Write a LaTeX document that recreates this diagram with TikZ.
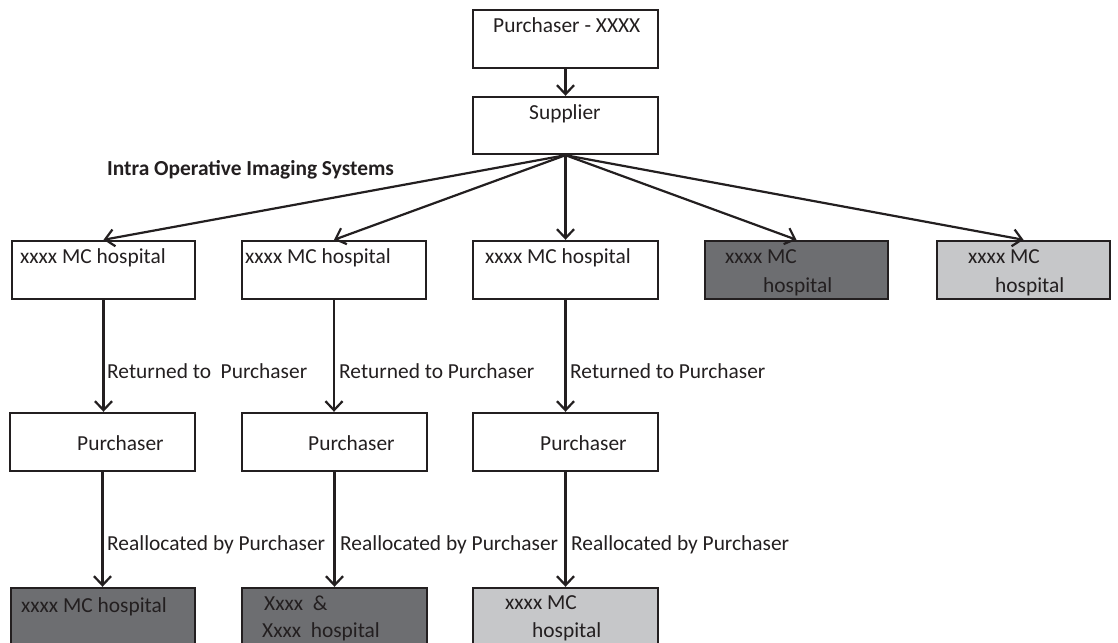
\documentclass[tikz,border=0pt]{standalone}
\usepackage{fontspec}
\setmainfont{Carlito}
\usetikzlibrary{arrows.meta}
\definecolor{ink}{HTML}{231F20}
\definecolor{darkfill}{HTML}{6D6E71}
\definecolor{lightfill}{HTML}{C6C7C9}
\begin{document}
\begin{tikzpicture}[x=1pt,y=-1pt,
  box/.style={draw=ink, line width=2.4pt, rectangle, inner sep=0pt, minimum width=185pt, minimum height=58pt},
  darkbox/.style={box, fill=darkfill},
  lightbox/.style={box, fill=lightfill},
  txt/.style={anchor=base west, inner sep=0pt, text=ink, font=\fontsize{21.4}{29}\selectfont},
  arr/.style={draw=ink, line width=2.2pt, -{Straight Barb[length=9pt,width=17pt,line width=2.2pt]}}
]
\useasboundingbox (0,0) rectangle (1118,642);
\fill[white] (0,0) rectangle (1118,642);

% boxes
\node[box] (top) at (565.5,39) {};
\node[box, minimum height=57pt] (sup) at (565.5,125.5) {};
\node[box, minimum width=183pt] (h1) at (103.5,270) {};
\node[box, minimum width=184pt] (h2) at (334,270) {};
\node[box] (h3) at (565.5,270) {};
\node[darkbox, minimum width=183pt] (h4) at (796.5,270) {};
\node[lightbox, minimum width=173pt] (h5) at (1023.5,270) {};
\node[box] (p1) at (102.5,442) {};
\node[box] (p2) at (334.5,442) {};
\node[box] (p3) at (565.5,442) {};
\node[darkbox, minimum width=184pt] (b1) at (103,617) {};
\node[darkbox] (b2) at (334.5,617) {};
\node[lightbox] (b3) at (565.5,617) {};

% texts in boxes
\node[txt] (ttop) at (493,33) {Purchaser - XXXX};
\node[txt] (tsup) at (529,119) {Supplier};
\node[txt] (th1) at (20,263) {xxxx MC hospital};
\node[txt] (th2) at (245,263) {xxxx MC hospital};
\node[txt] (th3) at (485,263) {xxxx MC hospital};
\node[txt] (th4a) at (725,263) {xxxx MC};
\node[txt] (th4b) at (763,292) {hospital};
\node[txt] (th5a) at (968,263) {xxxx MC};
\node[txt] (th5b) at (995,292) {hospital};
\node[txt] (tp1) at (77,450) {Purchaser};
\node[txt] (tp2) at (308,450) {Purchaser};
\node[txt] (tp3) at (540,450) {Purchaser};
\node[txt] (tb1) at (21,612) {xxxx MC hospital};
\node[txt] (tb2a) at (264,610) {Xxxx~ \&};
\node[txt] (tb2b) at (262,637) {Xxxx~ hospital};
\node[txt] (tb3a) at (505,609) {xxxx MC};
\node[txt] (tb3b) at (532,637) {hospital};

% title
\node[txt, font=\fontsize{21.4}{29}\selectfont\bfseries] (title) at (107,175) {Intra Operative Imaging Systems};

% connector labels
\node[txt] (r1) at (107,378) {Returned to~ Purchaser};
\node[txt] (r2) at (339,378) {Returned to Purchaser};
\node[txt] (r3) at (570,378) {Returned to Purchaser};
\node[txt] (a1) at (107,550) {Reallocated by Purchaser};
\node[txt] (a2) at (340,550) {Reallocated by Purchaser};
\node[txt] (a3) at (571,550) {Reallocated by Purchaser};

% connectors
\draw[arr] (top.south) -- (sup.north);
\draw[arr] (sup.south) -- (h1.north);
\draw[arr] (sup.south) -- (h2.north);
\draw[arr] (sup.south) -- (h3.north);
\draw[arr] (sup.south) -- (h4.north);
\draw[arr] (sup.south) -- (h5.north);
\draw[arr] (h1.south) -- (h1.south |- p1.north);
\draw[arr] (h2.south) -- (h2.south |- p2.north);
\draw[arr] (h3.south) -- (h3.south |- p3.north);
\draw[arr] (p1.south) -- (p1.south |- b1.north);
\draw[arr] (p2.south) -- (p2.south |- b2.north);
\draw[arr] (p3.south) -- (p3.south |- b3.north);
\end{tikzpicture}
\end{document}
